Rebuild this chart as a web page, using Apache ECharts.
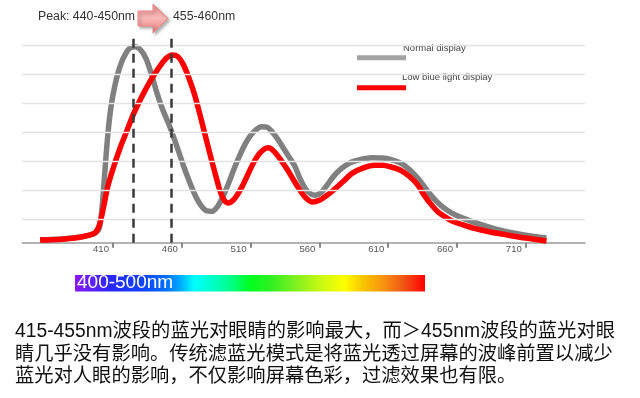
<!DOCTYPE html>
<html lang="zh">
  <head>
    <meta charset="UTF-8" />
    <title>Blue light spectrum</title>
    <script src="https://cdn.jsdelivr.net/npm/echarts@6/dist/echarts.min.js"></script>
    <style>
      html, body { margin: 0; padding: 0; background: #fff; }
    </style>
  </head>

  <body>
    <div id="main" style="width: 640px; height: 398px"></div>

    <script>
      // wavelength ticks shown under the axis (nm)
      var tickLabels = [410, 460, 510, 560, 610, 660, 710];

      // spectrum curves: [wavelength nm, relative intensity]
      var normalDisplay = [
        [357, 1.0], [365, 1.1], [375, 1.4], [385, 1.9], [392, 2.5], [397, 3.3], [400, 5],
        [402, 12], [404, 24], [406, 36], [408, 45], [410, 51], [413, 57.5], [416, 62],
        [419, 65], [422, 67], [426, 67.6], [430, 66.5], [434, 63.5], [438, 58], [442, 51.5],
        [446, 46], [450, 41.5], [454, 36.5], [458, 31], [462, 25.5], [466, 20.5], [470, 16],
        [474, 12.8], [478, 11], [482, 10.8], [486, 12.5], [490, 16], [494, 20.5], [498, 25.5],
        [502, 30], [506, 34], [510, 37], [514, 39], [518, 40], [522, 39.8], [526, 38],
        [530, 35.5], [534, 32.5], [538, 29.5], [542, 26.5], [546, 22], [550, 18.5],
        [554, 16.7], [557, 16.4], [561, 17.2], [565, 19.5], [570, 22.7], [575, 25.2],
        [582, 27.5], [590, 28.7], [598, 29.3], [606, 29.2], [614, 28.4], [620, 27.2],
        [626, 25], [632, 22], [638, 18.2], [644, 14.8], [650, 12.2], [656, 10.3],
        [662, 8.9], [672, 7.1], [684, 5.3], [696, 3.8], [710, 2.6], [725, 1.6]
      ];
      var lowBlueDisplay = [
        [357, 0.9], [365, 1.0], [375, 1.3], [385, 1.8], [392, 2.5], [397, 3.4], [400, 6],
        [403, 12], [406, 19], [410, 25.5], [415, 32.5], [420, 38.5], [425, 44.5], [430, 49.5],
        [435, 54], [440, 58], [445, 61.5], [449, 63.7], [453, 64.7], [457, 64.2], [461, 61.5],
        [465, 57], [469, 51.5], [473, 44.5], [477, 37], [481, 29.6], [485, 22.5], [488, 17.5],
        [491, 14.5], [494, 13.7], [497, 14.5], [500, 16.3], [504, 19.5], [508, 23.5],
        [512, 27.5], [516, 30.5], [520, 32.3], [523, 32.7], [527, 31.5], [532, 28.5],
        [537, 25], [542, 21], [546, 18], [550, 15.5], [555, 14], [560, 14.6], [565, 16.2],
        [570, 18], [577, 21], [584, 24], [592, 25.8], [600, 26.7], [606, 26.7], [612, 26.1],
        [619, 25], [625, 23], [631, 20.2], [636, 16.5], [641, 13.3], [646, 10.7], [651, 9],
        [656, 7.6], [664, 6.2], [672, 5], [684, 3.7], [696, 2.7], [710, 1.6], [725, 0.6]
      ];

      // dashed peak markers (nm) and horizontal guide levels
      var peakLines = [425, 452];
      var peakTop = 72.3;
      var gridLevels = [8, 18, 28, 38, 48, 58, 68];

      var seriesNames = ["Normal display", "Low blue light display"];
      var peakTexts = ["Peak: 440-450nm", "455-460nm"];
      var bandText = "400-500nm";
      var noteLines = [
        "415-455nm波段的蓝光对眼睛的影响最大，而＞455nm波段的蓝光对眼",
        "睛几乎没有影响。传统滤蓝光模式是将蓝光透过屏幕的波峰前置以减少",
        "蓝光对人眼的影响，不仅影响屏幕色彩，过滤效果也有限。"
      ];

      var latin = "Liberation Sans, Arial, sans-serif";
      var cjk = "Liberation Sans, Noto Sans CJK SC, sans-serif";

      var myChart = echarts.init(document.getElementById("main"));

      var graphics = [
        {
          type: "text", x: 38, y: 17,
          style: { text: peakTexts[0], fontSize: 12.3, fontFamily: latin, fill: "#333", verticalAlign: "middle" }
        },
        {
          type: "polygon",
          shape: { points: [[138, 11], [153, 11], [153, 4], [168, 18.5], [153, 33], [153, 26], [138, 26]] },
          style: {
            fill: new echarts.graphic.LinearGradient(0, 0, 0, 1, [
              { offset: 0, color: "#f29494" },
              { offset: 0.5, color: "#f7b8b8" },
              { offset: 1, color: "#ec7878" }
            ]),
            stroke: "#ee8585", lineWidth: 1,
            shadowBlur: 3, shadowColor: "rgba(0,0,0,0.3)", shadowOffsetX: 2, shadowOffsetY: 2
          }
        },
        {
          type: "text", x: 173, y: 17,
          style: { text: peakTexts[1], fontSize: 12.3, fontFamily: latin, fill: "#333", verticalAlign: "middle" }
        },
        // legend
        { type: "rect", shape: { x: 357, y: 55.3, width: 49, height: 5 }, style: { fill: "#a3a3a3" } },
        {
          type: "text", x: 403, y: 48,
          style: { text: seriesNames[0], fontSize: 9.5, fontFamily: latin, fill: "#444", verticalAlign: "middle" }
        },
        { type: "rect", shape: { x: 357, y: 85.2, width: 49, height: 5 }, style: { fill: "#ff0000" } },
        {
          type: "text", x: 402, y: 77.7,
          style: { text: seriesNames[1], fontSize: 9.5, fontFamily: latin, fill: "#444", verticalAlign: "middle" }
        },
        // spectrum bar
        {
          type: "rect",
          shape: { x: 75, y: 275, width: 350, height: 16.5 },
          style: {
            fill: new echarts.graphic.LinearGradient(0, 0, 1, 0, [
              { offset: 0, color: "#8a18ff" },
              { offset: 0.05, color: "#5a20ff" },
              { offset: 0.1, color: "#2a28ff" },
              { offset: 0.2, color: "#1046ff" },
              { offset: 0.26, color: "#0070ff" },
              { offset: 0.3, color: "#00a8ff" },
              { offset: 0.34, color: "#00ffff" },
              { offset: 0.4, color: "#00ffc0" },
              { offset: 0.45, color: "#00ff80" },
              { offset: 0.5, color: "#00ff20" },
              { offset: 0.56, color: "#30f020" },
              { offset: 0.63, color: "#80f020" },
              { offset: 0.7, color: "#c8f814" },
              { offset: 0.77, color: "#ffff00" },
              { offset: 0.82, color: "#f8c800" },
              { offset: 0.88, color: "#f89410" },
              { offset: 0.94, color: "#f05414" },
              { offset: 1, color: "#ff0000" }
            ])
          }
        },
        {
          type: "text", x: 77, y: 283,
          style: { text: bandText, fontSize: 19, fontFamily: latin, fill: "#fff", verticalAlign: "middle" }
        }
      ];

      noteLines.forEach(function (line, i) {
        graphics.push({
          type: "text", x: 15, y: 331.7 + i * 22.5,
          style: { text: line, fontSize: 19.3, fontFamily: cjk, fill: "#111", verticalAlign: "middle" }
        });
      });

      var option = {
        animation: false,
        backgroundColor: "#fff",
        grid: { left: 22.2, right: 55, top: 25.2, bottom: 155.3 },
        xAxis: {
          type: "value",
          min: 344,
          max: 753,
          splitLine: { show: false },
          axisLine: { onZero: false, lineStyle: { color: "#9a9a9a", width: 1.5 } },
          axisTick: {
            customValues: tickLabels,
            length: 5,
            lineStyle: { color: "#888", width: 2 }
          },
          axisLabel: {
            customValues: tickLabels,
            align: "right",
            padding: [0, 4, 0, 0],
            margin: 2,
            fontSize: 9.6,
            fontFamily: latin,
            color: "#555"
          }
        },
        yAxis: {
          type: "value",
          min: 0,
          max: 75,
          show: false,
          splitLine: { show: false }
        },
        series: [
          {
            type: "line",
            data: [],
            silent: true,
            z: 1,
            markLine: {
              silent: true,
              symbol: "none",
              label: { show: false },
              lineStyle: { color: "#e3e3e3", width: 1.3, type: "solid" },
              data: gridLevels.map(function (v) { return { yAxis: v }; })
            }
          },
          {
            name: seriesNames[0],
            type: "line",
            data: normalDisplay,
            smooth: 0.3,
            showSymbol: false,
            z: 2,
            lineStyle: { color: "#808080", width: 5.5, join: "round" }
          },
          {
            name: seriesNames[1],
            type: "line",
            data: lowBlueDisplay,
            smooth: 0.3,
            showSymbol: false,
            z: 3,
            lineStyle: { color: "#ff0000", width: 5.5, join: "round" }
          },
          {
            type: "line",
            data: [],
            silent: true,
            z: 4,
            markLine: {
              silent: true,
              symbol: "none",
              label: { show: false },
              lineStyle: { color: "#3a3a3a", width: 2.5, type: [9, 6] },
              data: peakLines.map(function (x) {
                return [{ coord: [x, 0] }, { coord: [x, peakTop] }];
              })
            }
          }
        ],
        graphic: graphics
      };
      myChart.setOption(option);
    </script>
  </body>
</html>
